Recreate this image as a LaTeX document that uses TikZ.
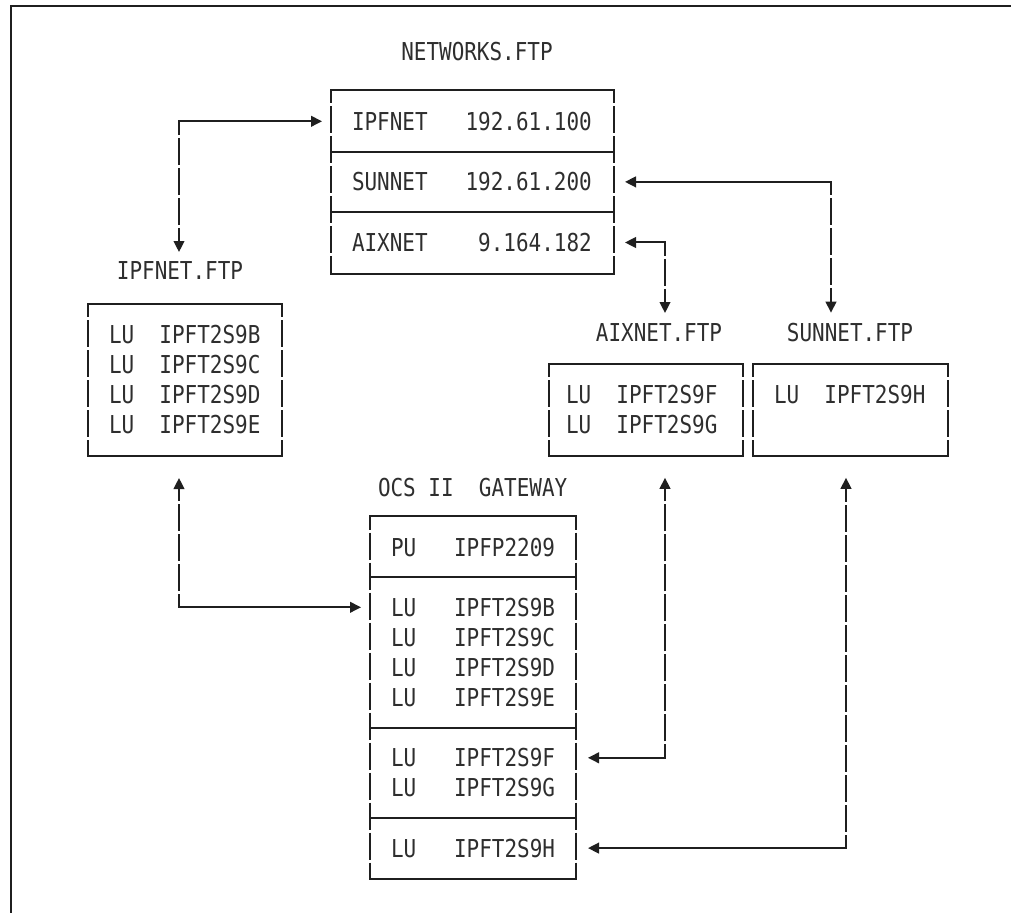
\documentclass[tikz,border=0pt]{standalone}
\usepackage{fontspec}
\newfontfamily\termfont[FakeStretch=0.85]{DejaVu Sans Mono}
\usetikzlibrary{
  arrows.meta, % For arrow tips
  calc, % For divider positions
  fit % For the box frames
}

% one blank character cell
\newcommand\gap{\phantom{0}}

\begin{document}
\begin{tikzpicture}[
      x=0.75pt, y=-0.75pt, % pixel grid, y pointing down
      line width=1.5pt, % Default line thickness
      >={Triangle[length=8.25pt, width=8pt]}, % Default arrow tip
      ink/.style={draw=black!88},
      hline/.style={ink, line cap=rect}, % solid horizontal rules
      vline/.style={ink, dash pattern=on 20.25pt off 2.25pt, dash phase=10.125pt}, % broken vertical rules
      frame/.style={inner sep=0pt, draw=none},
      txt/.style={font={\termfont\fontsize{18.5pt}{22pt}\selectfont}, text=black!82, inner sep=0pt, anchor=west},
      title/.style={txt, anchor=center},
    ]
    \useasboundingbox (0,0) rectangle (1011,913);

    % Rahmen
    \draw[ink] (11,940) -- (11,6) -- (1040,6);

    % Titel
    \node[title] (netTitle) at (477,52) {NETWORKS.FTP};
    \node[title] (ipfTitle) at (180,271) {IPFNET.FTP};
    \node[title] (aixTitle) at (659,333) {AIXNET.FTP};
    \node[title] (sunTitle) at (850,333) {SUNNET.FTP};
    \node[txt] (gwTitle) at (377,488) {OCS\gap II\gap\gap GATEWAY};

    % Boxen
    \node[frame, fit={(332,91) (613,273)}] (net) {};
    \node[frame, fit={(89,304.5) (281,455)}] (ipf) {};
    \node[frame, fit={(550,364.5) (742,454.8)}] (aix) {};
    \node[frame, fit={(754,364.5) (947,454.8)}] (sun) {};
    \node[frame, fit={(371,517) (575,878.2)}] (gw) {};

    \foreach \bx in {net,ipf,aix,sun,gw} {
      \draw[hline] (\bx.north west) -- (\bx.north east);
      \draw[hline] (\bx.south west) -- (\bx.south east);
      \draw[vline] (\bx.north west) -- (\bx.south west);
      \draw[vline] (\bx.north east) -- (\bx.south east);
    }

    % Zeilen
    \node[txt] (nIpf) at (351,121.3) {IPFNET\gap\gap\gap 192.61.100};
    \node[txt] (nSun) at (351,181.9) {SUNNET\gap\gap\gap 192.61.200};
    \node[txt] (nAix) at (351,242.5) {AIXNET\gap\gap\gap\gap 9.164.182};

    \foreach \y/\t [count=\k] in {334.6/B, 364.7/C, 394.8/D, 424.9/E}
      \node[txt] (ipf\k) at (108,\y) {LU\gap\gap IPFT2S9\t};

    \node[txt] (aix1) at (565,394.6) {LU\gap\gap IPFT2S9F};
    \node[txt] (aix2) at (565,424.7) {LU\gap\gap IPFT2S9G};
    \node[txt] (sun1) at (773,394.6) {LU\gap\gap IPFT2S9H};

    \node[txt] (gPu) at (390,547.1) {PU\gap\gap\gap IPFP2209};
    \foreach \y/\t [count=\k] in {607.3/B, 637.4/C, 667.5/D, 697.6/E}
      \node[txt] (g\k) at (390,\y) {LU\gap\gap\gap IPFT2S9\t};
    \node[txt] (gF) at (390,757.8) {LU\gap\gap\gap IPFT2S9F};
    \node[txt] (gG) at (390,787.9) {LU\gap\gap\gap IPFT2S9G};
    \node[txt] (gH) at (390,848.1) {LU\gap\gap\gap IPFT2S9H};

    % Trennlinien
    \foreach \bx/\p/\q in {net/nIpf/nSun, net/nSun/nAix, gw/gPu/g1, gw/g4/gF, gw/gG/gH} {
      \coordinate (d) at ($(\p)!0.5!(\q)$);
      \draw[hline] (\bx.west |- d) -- (\bx.east |- d);
    }

    % Verbindungen
    \coordinate (c1) at (179,121.3);
    \coordinate (c2) at (c1 |- g1);
    \coordinate (c3) at (831,181.9);
    \coordinate (c4) at (665,242.5);
    \coordinate (c5) at (c4 |- gF);
    \coordinate (c6) at (846,848.1);

    \draw[hline, ->, shorten >=6.75pt] (c1) -- (net.west |- c1);
    \draw[vline, ->, shorten >=6.75pt] (c1) -- (c1 |- ipfTitle.north);

    \draw[hline, ->, shorten >=6.75pt] (c2) -- (gw.west |- c2);
    \draw[vline, ->, shorten >=16.5pt] (c2) -- (c2 |- ipf.south);

    \draw[hline, ->, shorten >=8.25pt] (c3) -- (net.east |- c3);
    \draw[vline, ->, shorten >=7.5pt] (c3) -- (c3 |- sunTitle.north);

    \draw[hline, ->, shorten >=8.25pt] (c4) -- (net.east |- c4);
    \draw[vline, ->, shorten >=7.5pt] (c4) -- (c4 |- aixTitle.north);

    \draw[hline, ->, shorten >=9pt] (c5) -- (gw.east |- c5);
    \draw[vline, ->, shorten >=16.5pt] (c5) -- (c5 |- aix.south);

    \draw[hline, ->, shorten >=9pt] (c6) -- (gw.east |- c6);
    \draw[vline, ->, shorten >=16.5pt] (c6) -- (c6 |- sun.south);
  \end{tikzpicture}
\end{document}
